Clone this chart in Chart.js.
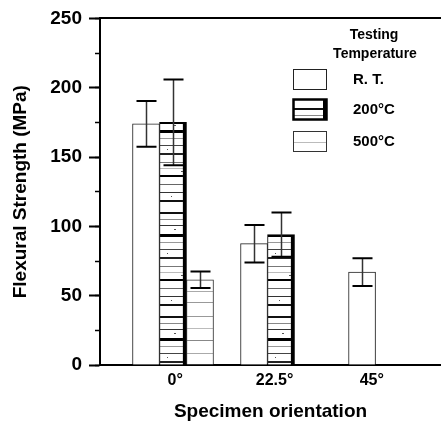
<!DOCTYPE html>
<html>
<head>
<meta charset="utf-8">
<script src="https://cdn.jsdelivr.net/npm/chart.js@4.4.1/dist/chart.umd.min.js"></script>
<style>
  html, body { margin: 0; padding: 0; background: #fff; }
  canvas { display: block; }
</style>
</head>
<body>
<canvas id="chart" width="441" height="423"></canvas>
<script>
// Flexural strength by specimen orientation and testing temperature
const orientations = ['0°', '22.5°', '45°'];
const temperatures = ['R. T.', '200°C', '500°C'];
const strengthRT  = [174, 87.5, 67];
const strength200 = [175, 94, null];
const strength500 = [61.5, null, null];
const errorRT  = [16.5, 13.5, 10];
const error200 = [31, 16, null];
const error500 = [6, null, null];

// where the orientation labels sit along the category axis
const labelAt = [0.02, 0.94, 1.84];

const FONT = "'Liberation Sans', Arial, Helvetica, sans-serif";
const canvas = document.getElementById('chart');
const ctx = canvas.getContext('2d');

function makePattern(w, h, strokes) {
  const c = document.createElement('canvas');
  c.width = w; c.height = h;
  const g = c.getContext('2d');
  g.fillStyle = '#fff';
  g.fillRect(0, 0, w, h);
  strokes.forEach(([x, y, sw, sh, col]) => { g.fillStyle = col; g.fillRect(x, y, sw, sh); });
  return ctx.createPattern(c, 'repeat');
}

// streaked texture for 200 °C: uneven horizontal rules across the bar
const fill200 = makePattern(27, 104, [
  [0, 4, 27, 2, '#111'], [0, 11, 27, 1, '#888'], [0, 17, 27, 1, '#333'],
  [0, 26, 27, 3, '#000'], [0, 34, 27, 1, '#999'], [0, 41, 27, 1, '#444'],
  [0, 49, 27, 2, '#222'], [0, 58, 27, 1, '#777'], [0, 64, 27, 1, '#bbb'],
  [0, 71, 27, 2, '#000'], [0, 80, 27, 1, '#666'], [0, 88, 27, 1, '#333'],
  [0, 96, 27, 2, '#111'],
  [12, 21, 2, 1, '#555'], [5, 45, 1, 1, '#555'], [19, 67, 2, 1, '#555'], [9, 92, 1, 1, '#555']
]);

// sparse grey horizontal rules for 500 °C
const fill500 = makePattern(27, 62, [
  [0, 6, 27, 1, '#999'], [0, 18, 27, 1, '#bbb'], [0, 30, 27, 1, '#888'],
  [0, 43, 27, 1, '#aaa'], [0, 54, 27, 1, '#999']
]);

const toPoints = arr => arr.map((v, i) => ({ x: i, y: v }));

// vertical error bars with caps, centred on each bar
const errorBars = {
  id: 'errorBars',
  afterDatasetsDraw(chart) {
    const c = chart.ctx;
    const y = chart.scales.y;
    chart.data.datasets.forEach((ds, di) => {
      const meta = chart.getDatasetMeta(di);
      meta.data.forEach((bar, i) => {
        const v = ds.data[i].y, e = ds.errors[i];
        if (v == null || e == null) return;
        const top = y.getPixelForValue(v + e);
        const bot = y.getPixelForValue(v - e);
        const x = Math.round(bar.x) + 0.5;
        c.save();
        c.strokeStyle = '#333';
        c.lineWidth = 1.5;
        c.beginPath(); c.moveTo(x, top); c.lineTo(x, bot); c.stroke();
        c.strokeStyle = '#000';
        c.lineWidth = 2;
        c.beginPath();
        c.moveTo(x - 10, top); c.lineTo(x + 10, top);
        c.moveTo(x - 10, bot); c.lineTo(x + 10, bot);
        c.stroke();
        c.restore();
      });
    });
  }
};

// legend box with two-line heading, drawn inside the plot area
const legendBox = {
  id: 'legendBox',
  afterDraw(chart) {
    const c = chart.ctx;
    const a = chart.chartArea;
    c.save();
    c.fillStyle = '#000';
    c.textBaseline = 'alphabetic';
    c.textAlign = 'center';
    c.font = `bold 14px ${FONT}`;
    c.fillText('Testing', a.left + 274, 39);
    c.fillText('Temperature', a.left + 275, 58);
    c.textAlign = 'left';
    c.textBaseline = 'middle';
    c.font = `bold 15px ${FONT}`;
    const tops = [69, 99, 131];
    chart.data.datasets.forEach((ds, i) => {
      const bx = a.left + 193, by = tops[i], bw = 33, bh = 20;
      c.fillStyle = ds.backgroundColor;
      c.fillRect(bx, by, bw, bh);
      c.strokeStyle = ds.borderColor;
      c.lineWidth = i === 1 ? 2.5 : 1;
      c.strokeRect(bx + 0.5, by + 0.5, bw, bh);
      if (i === 1) { c.fillStyle = '#000'; c.fillRect(bx + bw - 3, by, 4, bh + 1); }
      c.fillStyle = '#000';
      c.fillText(ds.label, a.left + 253, by + bh / 2 + 1);
    });
    c.restore();
  }
};

new Chart(ctx, {
  type: 'bar',
  data: {
    datasets: [
      { label: temperatures[0], data: toPoints(strengthRT), errors: errorRT,
        backgroundColor: '#fff', borderColor: '#222',
        borderWidth: { top: 1, left: 1, right: 1, bottom: 0 } },
      { label: temperatures[1], data: toPoints(strength200), errors: error200,
        backgroundColor: fill200, borderColor: '#000',
        borderWidth: { top: 2, left: 1, right: 4, bottom: 0 } },
      { label: temperatures[2], data: toPoints(strength500), errors: error500,
        backgroundColor: fill500, borderColor: '#333',
        borderWidth: { top: 1, left: 1, right: 1, bottom: 0 } }
    ]
  },
  options: {
    responsive: false,
    animation: false,
    devicePixelRatio: 1,
    layout: { padding: { top: 16, right: 0, bottom: 0, left: 0 } },
    datasets: { bar: { barThickness: 27, grouped: true } },
    plugins: { legend: { display: false }, tooltip: { enabled: false } },
    scales: {
      x: {
        type: 'linear', position: 'bottom', offset: false,
        min: -0.676, max: 2.481,
        afterFit(s) { s.height = 58; },
        afterBuildTicks(s) { s.ticks = labelAt.map(v => ({ value: v })); },
        ticks: {
          callback: (v, i) => orientations[i],
          font: { family: FONT, size: 16, weight: 'bold' },
          color: '#000', padding: 6, autoSkip: false, maxRotation: 0
        },
        grid: { display: false, drawTicks: false, offset: false },
        border: { display: true, color: '#000', width: 2 },
        title: {
          display: true, text: 'Specimen orientation', color: '#000',
          font: { family: FONT, size: 19, weight: 'bold' },
          padding: { top: 0, bottom: 0 }
        }
      },
      xTop: {
        type: 'linear', position: 'top', offset: false,
        min: -0.676, max: 2.481,
        afterFit(s) { s.height = 0; },
        ticks: { display: false },
        grid: { display: false, drawTicks: false },
        border: { display: true, color: '#000', width: 2 }
      },
      y: {
        type: 'linear', position: 'left', weight: 1,
        min: 0, max: 250,
        afterFit(s) { s.width = 100; },
        ticks: {
          stepSize: 50, color: '#000', padding: 7,
          font: { family: FONT, size: 19, weight: 'bold' }
        },
        grid: { drawOnChartArea: false, tickLength: 11, tickWidth: 2, tickColor: '#000' },
        border: { display: true, color: '#000', width: 2 },
        title: {
          display: true, text: 'Flexural Strength (MPa)', color: '#000',
          font: { family: FONT, size: 19, weight: 'bold' },
          padding: { top: 9, bottom: 0 }
        }
      },
      yMinor: {
        type: 'linear', position: 'left', weight: 0,
        min: 0, max: 250,
        afterFit(s) { s.width = 0; },
        ticks: { display: false, stepSize: 25 },
        grid: { drawOnChartArea: false, tickLength: 5, tickWidth: 1.5, tickColor: '#000' },
        border: { display: false }
      }
    }
  },
  plugins: [errorBars, legendBox]
});
</script>
</body>
</html>
